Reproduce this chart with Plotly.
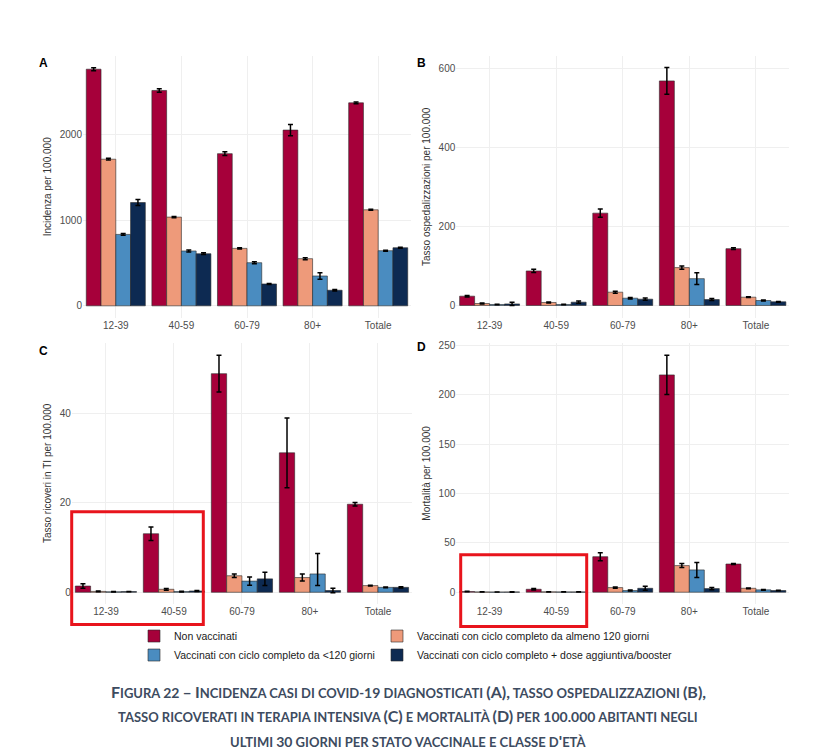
import plotly.graph_objects as go

# the page body has an 8px margin; figure coordinates are compensated for it
OFF = 8
W, H = 816 - OFF, 750 - OFF


def fx(px):
    return (px - OFF) / W


def fy(py):
    return 1 - (py - OFF) / H


categories = ["12-39", "40-59", "60-79", "80+", "Totale"]
series_names = [
    "Non vaccinati",
    "Vaccinati con ciclo completo da almeno 120 giorni",
    "Vaccinati con ciclo completo da <120 giorni",
    "Vaccinati con ciclo completo + dose aggiuntiva/booster",
]
series_colors = ["#A6003A", "#EE9A7A", "#4A8CC0", "#0D2A52"]

# A - Incidenza per 100.000
inc_non = [2760, 2512, 1775, 2050, 2368]
inc_non_err = [18, 20, 22, 65, 10]
inc_old = [1710, 1035, 670, 550, 1120]
inc_old_err = [10, 8, 8, 12, 6]
inc_recent = [833, 640, 503, 348, 643]
inc_recent_err = [10, 12, 12, 38, 5]
inc_boost = [1205, 608, 255, 182, 678]
inc_boost_err = [35, 10, 6, 8, 6]

# B - Tasso ospedalizzazioni per 100.000
hosp_non = [23.6, 87.5, 234, 569, 144]
hosp_non_err = [2, 4, 10.5, 33.7, 2]
hosp_old = [5, 7.6, 33.7, 96, 21]
hosp_old_err = [1, 1.2, 2.5, 4, 1]
hosp_recent = [2.5, 2.5, 18.5, 68, 12.6]
hosp_recent_err = [0.5, 0.6, 2, 14.7, 1]
hosp_boost = [4, 8.4, 16, 15, 9.3]
hosp_boost_err = [4, 3, 3, 2.5, 0.8]

# C - Tasso ricoveri in TI per 100.000
icu_non = [1.4, 13.1, 48.9, 31.2, 19.7]
icu_non_err = [0.5, 1.5, 4.1, 7.8, 0.4]
icu_old = [0.2, 0.67, 3.7, 3.3, 1.5]
icu_old_err = [0.1, 0.2, 0.4, 0.8, 0.1]
icu_recent = [0.1, 0.15, 2.5, 4.1, 1.1]
icu_recent_err_plus = [0.05, 0.1, 0.9, 4.6, 0.1]
icu_recent_err_minus = [0.05, 0.1, 0.9, 2.6, 0.1]
icu_boost = [0.15, 0.3, 3.0, 0.4, 1.1]
icu_boost_err = [0.05, 0.1, 1.5, 0.5, 0.15]

# D - Mortalità per 100.000
mort_non = [0.7, 3.0, 36.0, 220.3, 28.6]
mort_non_err = [0.2, 0.8, 4, 19.9, 0.6]
mort_old = [0.3, 0.4, 4.7, 27.0, 4.0]
mort_old_err = [0.1, 0.15, 0.7, 2, 0.4]
mort_recent = [0.2, 0.3, 1.7, 22.6, 2.4]
mort_recent_err = [0.1, 0.1, 0.5, 7.6, 0.4]
mort_boost = [0.3, 0.3, 4.0, 3.7, 1.7]
mort_boost_err = [0.3, 0.2, 2, 1.2, 0.3]

panels = [
    dict(letter="A", title="Incidenza per 100.000", ticks=[0, 1000, 2000],
         rng=[-139, 2916],
         vals=[inc_non, inc_old, inc_recent, inc_boost],
         errp=[inc_non_err, inc_old_err, inc_recent_err, inc_boost_err],
         errm=[inc_non_err, inc_old_err, inc_recent_err, inc_boost_err],
         px=(83, 411), py=(53, 316), lab=(43, 60)),
    dict(letter="B", title="Tasso ospedalizzazioni per 100.000", ticks=[0, 200, 400, 600],
         rng=[-31.1, 632.6],
         vals=[hosp_non, hosp_old, hosp_recent, hosp_boost],
         errp=[hosp_non_err, hosp_old_err, hosp_recent_err, hosp_boost_err],
         errm=[hosp_non_err, hosp_old_err, hosp_recent_err, hosp_boost_err],
         px=(456.3, 789.2), py=(53, 316), lab=(421, 60)),
    dict(letter="C", title="Tasso ricoveri in TI per 100.000", ticks=[0, 20, 40],
         rng=[-2.64, 55.84],
         vals=[icu_non, icu_old, icu_recent, icu_boost],
         errp=[icu_non_err, icu_old_err, icu_recent_err_plus, icu_boost_err],
         errm=[icu_non_err, icu_old_err, icu_recent_err_minus, icu_boost_err],
         px=(71.9, 412), py=(341, 603.5), lab=(43, 349)),
    dict(letter="D", title="Mortalità per 100.000", ticks=[0, 50, 100, 150, 200, 250],
         rng=[-12.03, 253.0],
         vals=[mort_non, mort_old, mort_recent, mort_boost],
         errp=[mort_non_err, mort_old_err, mort_recent_err, mort_boost_err],
         errm=[mort_non_err, mort_old_err, mort_recent_err, mort_boost_err],
         px=(456.3, 789.2), py=(341, 603.5), lab=(421, 345)),
]

fig = go.Figure()
TICKFONT = dict(family="Liberation Sans, Arial", size=10, color="#4d4d4d")
legend_map = ["legend", "legend2", "legend", "legend2"]

for i, p in enumerate(panels):
    ax = "" if i == 0 else str(i + 1)
    for s in range(4):
        fig.add_trace(go.Bar(
            x=categories, y=p["vals"][s], name=series_names[s],
            marker=dict(color=series_colors[s], line=dict(color="#2a2a2a", width=0.6)),
            error_y=dict(type="data", array=p["errp"][s], arrayminus=p["errm"][s],
                         symmetric=False, color="black", thickness=1.5, width=2.5),
            xaxis="x" + ax, yaxis="y" + ax,
            showlegend=(i == 0), legend=legend_map[s],
            hoverinfo="skip",
        ))
    x0, x1 = p["px"]
    y0, y1 = p["py"]
    fig.update_layout(**{
        "xaxis" + ax: dict(domain=[fx(x0), fx(x1)], anchor="y" + ax,
                           showgrid=True, gridcolor="#EFEFEF", gridwidth=1,
                           showline=False, zeroline=False, ticks="",
                           tickfont=TICKFONT, fixedrange=True),
        "yaxis" + ax: dict(domain=[fy(y1), fy(y0)], anchor="x" + ax,
                           range=p["rng"], tickvals=p["ticks"],
                           showgrid=True, gridcolor="#EFEFEF", gridwidth=1,
                           zeroline=False, showline=False, ticks="",
                           tickfont=TICKFONT,
                           title=dict(text=p["title"], standoff=6,
                                      font=dict(family="Liberation Sans, Arial", size=10, color="#333333"))),
    })
    lx, ly = p["lab"]
    fig.add_annotation(text="<b>" + p["letter"] + "</b>", x=fx(lx), y=fy(ly),
                       xref="paper", yref="paper", showarrow=False,
                       xanchor="center", yanchor="middle",
                       font=dict(family="Liberation Sans, Arial", size=12, color="black"))

# red highlight boxes
for (a, b, c, d) in [(71.7, 510.7, 203.3, 624), (460.7, 554, 586.7, 626)]:
    fig.add_shape(type="rect", xref="paper", yref="paper",
                  x0=fx(a), x1=fx(c), y0=fy(d), y1=fy(b),
                  line=dict(color="#E8141C", width=3), fillcolor="rgba(0,0,0,0)")


def small_caps(text, small=13, big=16):
    out = []
    for ch in text:
        if ch.isdigit() or (ch == "." and out and out[-1][0] == "d"):
            kind = "d"
        elif ch.isupper() or ch in "()–,'":
            kind = "u"
        else:
            kind = "l"
        if out and out[-1][0] == kind:
            out[-1][1] += ch
        else:
            out.append([kind, ch])
    html = ""
    for kind, seg in out:
        if kind == "u":
            html += "<span style='font-size:%dpx'>%s</span>" % (big, seg)
        elif kind == "d":
            html += "<span style='font-size:%dpx'>%s</span>" % (small + 1, seg)
        else:
            html += "<span style='font-size:%dpx'>%s</span>" % (small, seg.upper())
    return html


caption_lines = [
    "Figura 22 – Incidenza casi di covid-19 diagnosticati (A), tasso ospedalizzazioni (B),",
    "tasso ricoverati in terapia intensiva (C) e mortalità (D) per 100.000 abitanti negli",
    "ultimi 30 giorni per stato vaccinale e classe d'età",
]
for k, line in enumerate(caption_lines):
    fig.add_annotation(text="<b>" + small_caps(line) + "</b>", x=fx(408), y=fy(691 + 24.5 * k),
                       xref="paper", yref="paper", showarrow=False,
                       xanchor="center", yanchor="middle",
                       font=dict(family="Lato, Open Sans", size=14, color="#3d4b60"))

LEGFONT = dict(family="Liberation Sans, Arial", size=10.5, color="#1a1a1a")
fig.update_layout(
    width=W, height=H, margin=dict(l=0, r=0, t=0, b=0),
    paper_bgcolor="white", plot_bgcolor="white",
    barmode="group", bargap=0.1, bargroupgap=0,
    legend=dict(x=fx(134), y=fy(621), xanchor="left", yanchor="top",
                orientation="v", font=LEGFONT, itemwidth=30, tracegroupgap=0,
                bgcolor="rgba(0,0,0,0)"),
    legend2=dict(x=fx(377), y=fy(621), xanchor="left", yanchor="top",
                 orientation="v", font=LEGFONT, itemwidth=30, tracegroupgap=0,
                 bgcolor="rgba(0,0,0,0)"),
)

fig.write_html("out.html")
